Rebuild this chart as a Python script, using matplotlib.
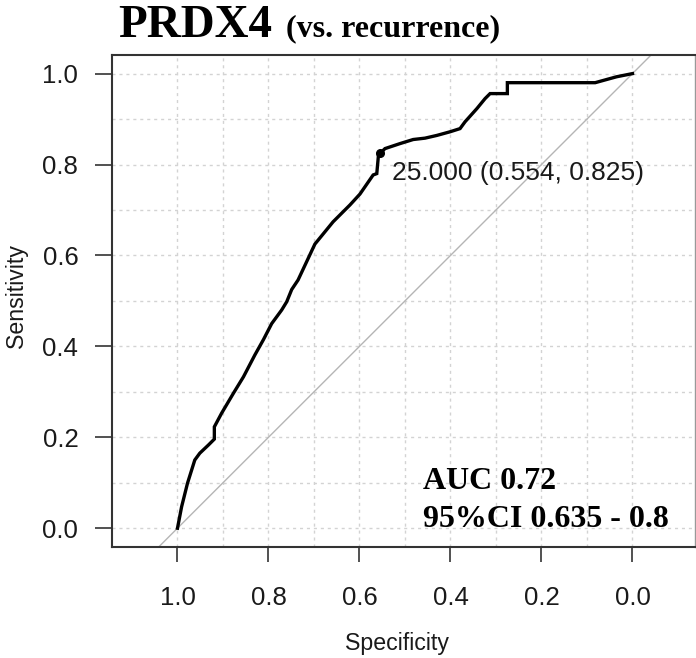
import matplotlib
matplotlib.use("Agg")
import matplotlib.pyplot as plt
from matplotlib.ticker import FixedLocator

# ROC curve data (specificity, sensitivity)
specificity = [1.000, 0.991, 0.978, 0.962, 0.951, 0.932, 0.919, 0.919, 0.903, 0.877,
               0.855, 0.830, 0.811, 0.793, 0.771, 0.760, 0.749, 0.735, 0.698, 0.658,
               0.621, 0.599, 0.570, 0.562, 0.558, 0.554, 0.544, 0.511, 0.482, 0.456,
               0.430, 0.401, 0.379, 0.368, 0.342, 0.324, 0.313, 0.275, 0.275, 0.082,
               0.064, 0.035, 0.000]
sensitivity = [0.000, 0.047, 0.099, 0.150, 0.165, 0.183, 0.196, 0.223, 0.253, 0.297,
               0.333, 0.381, 0.415, 0.450, 0.480, 0.498, 0.525, 0.546, 0.625, 0.674,
               0.711, 0.735, 0.777, 0.780, 0.824, 0.825, 0.835, 0.846, 0.855, 0.858,
               0.864, 0.872, 0.879, 0.894, 0.923, 0.945, 0.956, 0.956, 0.980, 0.980,
               0.985, 0.993, 1.000]

thr_value = 25.000
thr_spec = 0.554
thr_sens = 0.825

auc = 0.72
ci_low = 0.635
ci_high = 0.8

title_main = "PRDX4"
title_sub = "(vs. recurrence)"
tick_values = [0.0, 0.2, 0.4, 0.6, 0.8, 1.0]
tick_labels = ["0.0", "0.2", "0.4", "0.6", "0.8", "1.0"]
grid_values = [0.0, 0.1, 0.2, 0.3, 0.4, 0.5, 0.6, 0.7, 0.8, 0.9, 1.0]

W, H = 696, 658
fig = plt.figure(figsize=(W / 100, H / 100), dpi=100)
ax = fig.add_axes([111.7 / W, 1 - 547.3 / H, (695 - 111.7) / W, (547.3 - 54.5) / H])

ax.set_xlim(1.1446, -0.1374)
ax.set_ylim(-0.042, 1.042)

sans = "Liberation Sans"
serif = "Liberation Serif"

# grid
for g in grid_values:
    ax.axvline(g, color="#d3d3d3", lw=1.0, ls=(0, (2.2, 2.8)), zorder=0)
    ax.axhline(g, color="#d3d3d3", lw=1.0, ls=(0, (2.2, 2.8)), zorder=0)

# diagonal
ax.axline((1, 0), (0, 1), color="#b5b5b5", lw=1.0, zorder=1)

# ROC curve
ax.plot(specificity, sensitivity, color="black", lw=2.4, solid_joinstyle="miter", zorder=3)
ax.plot([thr_spec], [thr_sens], "o", color="black", ms=5.5, zorder=4)
ax.text(0.529, 0.766, f"{thr_value:.3f} ({thr_spec:.3f}, {thr_sens:.3f})",
        fontsize=19, family=sans, color="#1a1a1a", ha="left", va="baseline", zorder=5)

# AUC annotation
ax.text(0.461, 0.0857, f"AUC {auc}", fontsize=23, family=serif, fontweight="bold",
        ha="left", va="baseline", color="black")
ax.text(0.461, 0.0035, f"95%CI {ci_low} - {ci_high}", fontsize=23, family=serif,
        fontweight="bold", ha="left", va="baseline", color="black")

# ticks
ax.xaxis.set_major_locator(FixedLocator(tick_values))
ax.yaxis.set_major_locator(FixedLocator(tick_values))
ax.set_xticklabels(tick_labels, family=sans, fontsize=18.5, color="#1a1a1a")
ax.set_yticklabels(tick_labels, family=sans, fontsize=18.5, color="#1a1a1a")
ax.tick_params(axis="x", length=11, width=1.2, color="#333333", pad=17)
ax.tick_params(axis="y", length=12, width=1.2, color="#333333", pad=12)

for s in ["left", "top", "bottom"]:
    ax.spines[s].set_color("#333333")
    ax.spines[s].set_linewidth(1.5)
ax.spines["right"].set_color("#999999")
ax.spines["right"].set_linewidth(1.0)

# axis labels
fig.text(16.5 / W, 1 - 296 / H, "Sensitivity", rotation=90, family=sans, fontsize=16.7,
         color="#1a1a1a", ha="center", va="center")
fig.text(396.5 / W, 1 - 650 / H, "Specificity", family=sans, fontsize=16.7,
         color="#1a1a1a", ha="center", va="baseline")

# title
fig.text(118 / W, 1 - 36.7 / H, title_main, family=serif, fontweight="bold", fontsize=33.8,
         ha="left", va="baseline", color="black")
fig.text(286 / W, 1 - 36.7 / H, title_sub, family=serif, fontweight="bold", fontsize=23,
         ha="left", va="baseline", color="black")

fig.savefig("out.png", dpi=100)
